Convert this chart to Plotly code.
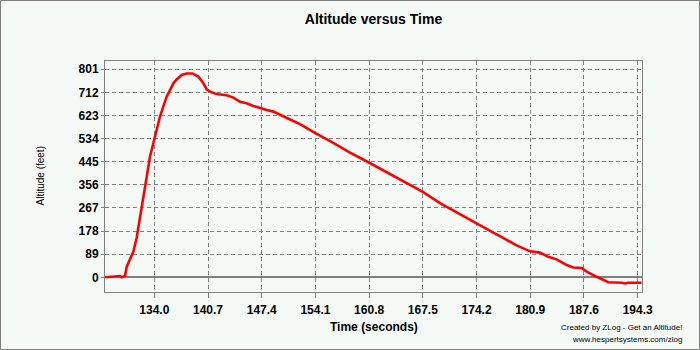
import plotly.graph_objects as go

# ---- data ----
time_s = [127.89, 129.10, 129.72, 129.93, 130.35, 130.56, 130.97, 131.39, 131.80, 132.22,
          132.63, 133.05, 133.47, 133.88, 134.30, 134.71, 135.13, 135.55, 135.96, 136.38,
          136.79, 137.42, 138.04, 138.75, 139.49, 140.12, 140.53, 140.95, 141.57, 141.99,
          143.03, 143.86, 144.69, 145.52, 146.35, 147.19, 148.02, 148.85, 149.68, 150.51,
          151.34, 152.18, 153.01, 154.09, 156.33, 158.41, 160.70, 162.57, 164.65, 167.44,
          169.64, 171.72, 174.20, 176.29, 177.29, 179.12, 180.87, 182.11, 183.15, 184.19,
          185.44, 186.27, 187.31, 187.93, 189.18, 190.64, 192.30, 192.70, 193.13, 194.79]
altitude_ft = [0, 5, 5, 0, 5, 41, 67, 99, 152, 230,
               311, 399, 465, 516, 567, 619, 658, 696, 721, 747,
               762, 779, 785, 785, 773, 747, 724, 715, 708, 705,
               701, 692, 676, 670, 660, 651, 644, 638, 625, 612,
               602, 590, 574, 555, 518, 480, 443, 412, 377, 330,
               286, 250, 206, 172, 156, 124, 100, 95, 79, 69,
               47, 38, 36, 22, 2, -19, -21, -24, -21, -21]

x_ticks = [134.0, 140.7, 147.4, 154.1, 160.8, 167.5, 174.2, 180.9, 187.6, 194.3]
x_tick_labels = ["134.0", "140.7", "147.4", "154.1", "160.8", "167.5", "174.2", "180.9", "187.6", "194.3"]
y_ticks = [0, 89, 178, 267, 356, 445, 534, 623, 712, 801]
y_tick_labels = ["0", "89", "178", "267", "356", "445", "534", "623", "712", "801"]

BG = "#F5FAF6"
GRID = "#808080"
FONT = "Liberation Sans, Arial, sans-serif"

L, R, T, B = 105, 58, 61, 58
W, H = 700, 350
PW, PH = W - L - R, H - T - B

fig = go.Figure()
fig.add_trace(go.Scatter(
    x=time_s, y=altitude_ft, mode="lines",
    line=dict(color="#FF0000", width=2.6),
    hoverinfo="x+y", showlegend=False,
))

axis_common = dict(
    showgrid=True, gridcolor=GRID, gridwidth=1, griddash="4px,3px",
    showline=True, linecolor=GRID, linewidth=1, mirror=True,
    ticks="outside", ticklen=5, tickcolor=GRID, tickwidth=1,
    tickfont=dict(family=FONT, size=12, color="#000000", weight="bold"),
    zeroline=False,
)

fig.update_xaxes(
    range=[127.85, 194.84], tickmode="array", tickvals=x_ticks, ticktext=x_tick_labels,
    ticklabelstandoff=2,
    **axis_common,
)
fig.update_yaxes(
    range=[-56.6, 832.9], tickmode="array", tickvals=y_ticks, ticktext=y_tick_labels,
    **axis_common,
)
fig.update_yaxes(zeroline=True, zerolinecolor=GRID, zerolinewidth=1.5, ticklen=3)

fig.update_layout(
    width=W, height=H,
    margin=dict(l=L, r=R, t=T, b=B, pad=0),
    paper_bgcolor=BG, plot_bgcolor=BG,
    title=dict(text="Altitude versus Time", x=(373.5 - L) / PW, xref="paper", xanchor="center",
               y=1 - 19 / H, yref="container", yanchor="middle",
               font=dict(family=FONT, size=14, color="#000000", weight="bold")),
    font=dict(family=FONT, color="#000000"),
)

annotations = [
    dict(text="Time (seconds)", x=(373.5 - L) / PW, y=-(327 - (H - B)) / PH,
         xref="paper", yref="paper", xanchor="center", yanchor="middle", showarrow=False,
         font=dict(family=FONT, size=12, color="#000000", weight="bold")),
    dict(text="Altitude (feet)", x=(40 - L) / PW, y=0.5, textangle=-90,
         xref="paper", yref="paper", xanchor="center", yanchor="middle", showarrow=False,
         font=dict(family=FONT, size=10, color="#000000")),
    dict(text="Created by ZLog - Get an Altitude!", x=(684 - L) / PW, y=-(327 - (H - B)) / PH,
         xref="paper", yref="paper", xanchor="right", yanchor="middle", showarrow=False,
         font=dict(family=FONT, size=8, color="#000000")),
    dict(text="www.hespertsystems.com/zlog", x=(684 - L) / PW, y=-(339 - (H - B)) / PH,
         xref="paper", yref="paper", xanchor="right", yanchor="middle", showarrow=False,
         font=dict(family=FONT, size=8, color="#000000")),
]
fig.update_layout(annotations=annotations)

# outer frame of the image
fig.add_shape(type="rect", xref="paper", yref="paper",
              x0=(-L + 0.5) / PW, x1=(PW + R - 0.5) / PW,
              y0=(-B + 0.5) / PH, y1=(PH + T - 0.5) / PH,
              line=dict(color="#808080", width=1), fillcolor="rgba(0,0,0,0)", layer="above")

fig.write_html("out.html")
